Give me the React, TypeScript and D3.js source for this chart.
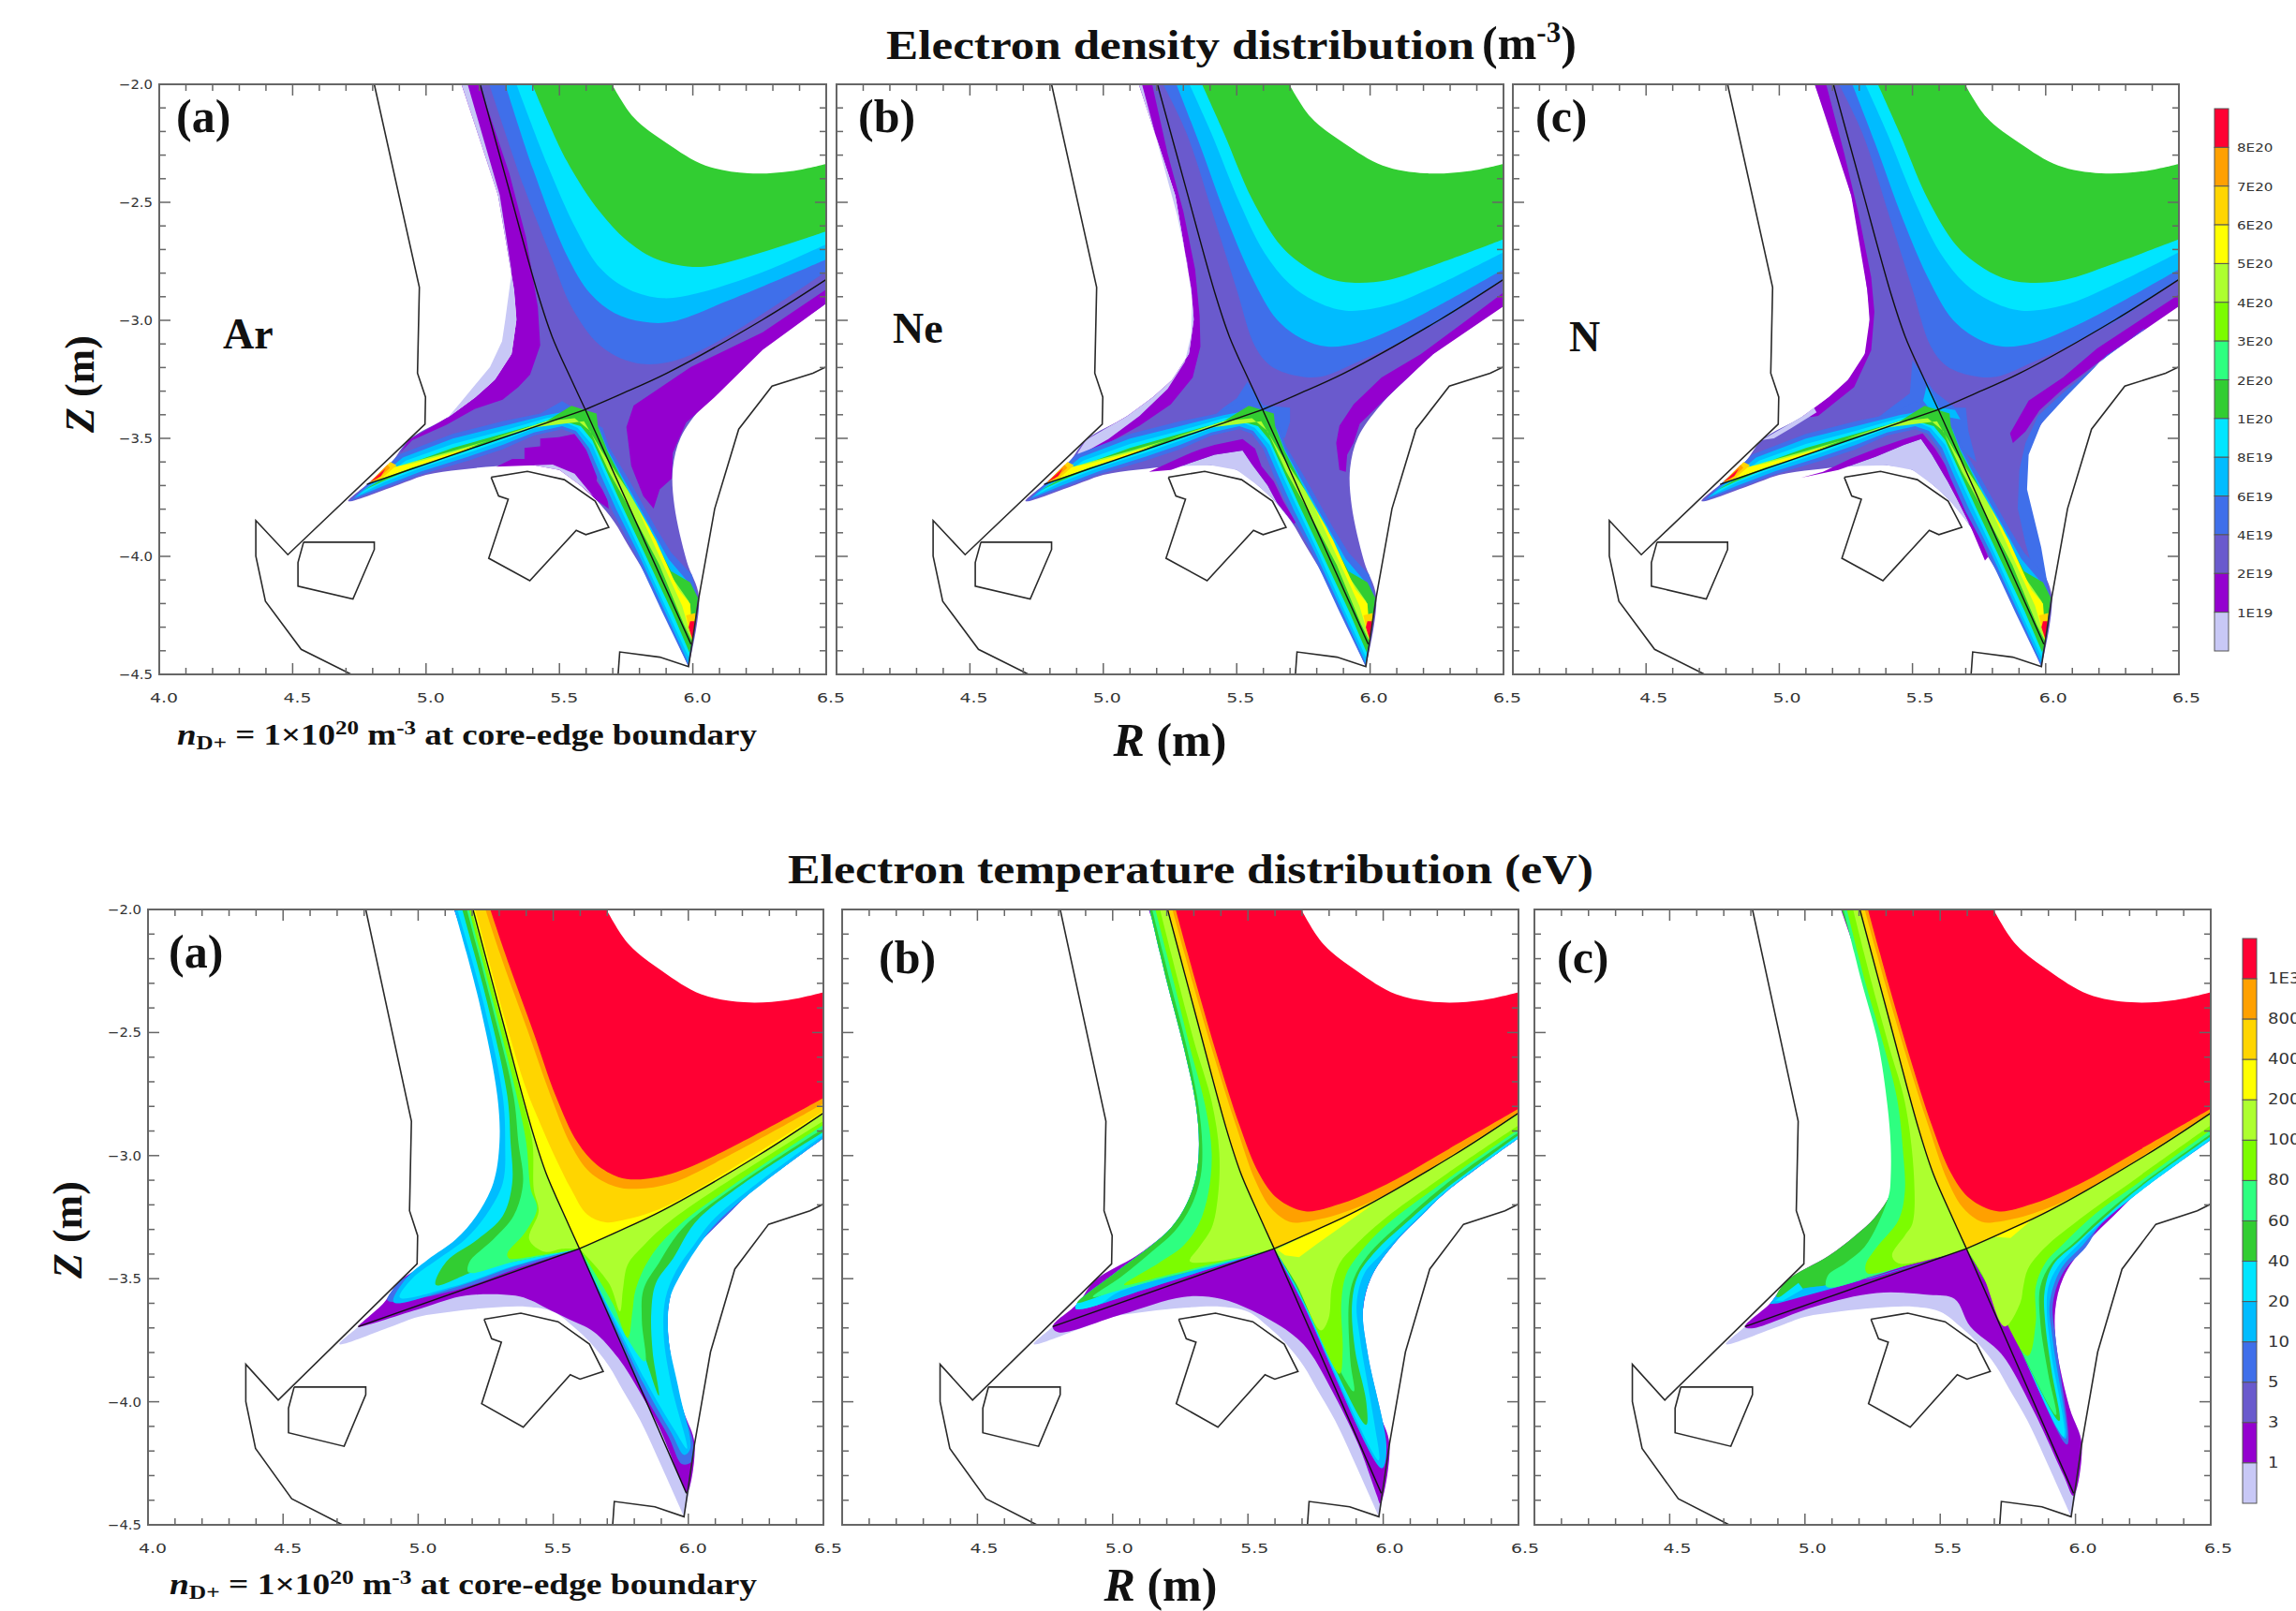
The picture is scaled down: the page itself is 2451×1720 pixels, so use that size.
import React from "react";
import * as d3 from "d3";

type P = [number, number];

// ---------- colour scale (cold to hot) ----------
const LAV = "#c8c8f6", PUR = "#9400cf", SLA = "#6a5acd", BLU = "#3f6fea", SKY = "#00bcff", CYA = "#00e5ff",
  GRN = "#32cd32", SPR = "#2eff80", LIM = "#7cfc00", YGR = "#adff2f", YEL = "#ffff00", GLD = "#ffd500", ORA = "#ffa000", RED = "#ff0033";
const barColors = [RED, ORA, GLD, YEL, YGR, LIM, SPR, GRN, CYA, SKY, BLU, SLA, PUR, LAV];
const densityLabels = ["8E20", "7E20", "6E20", "5E20", "4E20", "3E20", "2E20", "1E20", "8E19", "6E19", "4E19", "2E19", "1E19"];
const temperatureLabels = ["1E3", "800", "400", "200", "100", "80", "60", "40", "20", "10", "5", "3", "1"];

// ---------- machine geometry (R, Z in metres) ----------
const WALL_OUTER: P[] = [[4.806, -2], [4.975, -2.86], [4.968, -3.224], [4.998, -3.325], [4.996, -3.44], [4.482, -3.993], [4.362, -3.848], [4.362, -3.999], [4.398, -4.19], [4.532, -4.394], [4.72, -4.5]];
const WALL_BOX: P[] = [[4.541, -3.94], [4.806, -3.94], [4.806, -3.971], [4.726, -4.181], [4.52, -4.126], [4.52, -4.026], [4.541, -3.94]];
const WALL_DOME: P[] = [[5.244, -3.665], [5.38, -3.64], [5.518, -3.675], [5.634, -3.766], [5.685, -3.877], [5.599, -3.908], [5.563, -3.89], [5.389, -4.103], [5.235, -4.008], [5.308, -3.758], [5.272, -3.744], [5.244, -3.665]];
const WALL_RIGHT: P[] = [[5.72, -4.5], [5.726, -4.405], [5.876, -4.427], [5.984, -4.467], [6.023, -4.172], [6.082, -3.798], [6.172, -3.461], [6.297, -3.279], [6.45, -3.224], [6.5, -3.197]];
const X_POINT: P = [5.597, -3.378];
const SEP_UP: P[] = [[5.203, -2], [5.312, -2.45], [5.419, -2.887], [5.473, -3.07], [5.545, -3.252], X_POINT];
const SEP_OUT: P[] = [X_POINT, [5.724, -3.316], [5.903, -3.224], [6.262, -2.997], [6.5, -2.827]];
const SEP_LEGS: P[] = [[4.778, -3.695], X_POINT, [5.993, -4.372]];

// ---------- plasma domain boundary ----------
const DOM_LEFT: P[] = [[5.133, -2], [5.27, -2.47], [5.33, -2.87], [5.339, -2.997], [5.321, -3.142], [5.258, -3.252], [5.186, -3.325], [5.088, -3.407], [4.935, -3.507]];
const DOM_TIP: P[] = [[4.873, -3.598], [4.778, -3.695], [4.708, -3.766]];
const DOM_BOTTOM: P[] = [[4.897, -3.696], [5, -3.655], [5.128, -3.633], [5.264, -3.618], [5.404, -3.614], [5.5, -3.634], [5.58, -3.7], [5.639, -3.762], [5.706, -3.855], [5.756, -3.95], [5.822, -4.076], [5.9, -4.26], [5.984, -4.467]];
const DOM_RIGHT: P[] = [[6.023, -4.172], [5.978, -4.024], [5.931, -3.786], [5.925, -3.627], [5.955, -3.495], [6.037, -3.362], [6.154, -3.23], [6.231, -3.149], [6.5, -2.929]];
const CORNER: P[] = [[6.5, -2]];
const CORE: P[] = [[5.697, -2], [5.778, -2.14], [5.903, -2.25], [6.047, -2.344], [6.208, -2.377], [6.369, -2.368], [6.5, -2.337], CORNER[0]];

// ---------- electron density: contours of each panel ----------
const nGreenA: P[] = [[5.398, -2], [5.527, -2.323], [5.652, -2.541], [5.76, -2.669], [5.867, -2.742], [6.029, -2.774], [6.226, -2.723], [6.5, -2.623]];
const nCyanA: P[] = [[5.339, -2], [5.455, -2.341], [5.563, -2.614], [5.652, -2.778], [5.76, -2.869], [5.885, -2.906], [6.011, -2.887], [6.262, -2.796], [6.5, -2.678]];
const nSkyA: P[] = [[5.297, -2], [5.401, -2.359], [5.527, -2.723], [5.616, -2.887], [5.706, -2.969], [5.814, -3.006], [5.921, -3.006], [6.136, -2.915], [6.5, -2.742]];
const nBlueA: P[] = [[5.237, -2], [5.366, -2.432], [5.473, -2.742], [5.545, -2.942], [5.652, -3.106], [5.778, -3.179], [5.903, -3.179], [6.082, -3.097], [6.5, -2.793]];
const nGreenB: P[] = [[5.37, -2], [5.452, -2.207], [5.557, -2.485], [5.663, -2.681], [5.745, -2.763], [5.838, -2.82], [5.932, -2.84], [6.072, -2.828], [6.248, -2.763], [6.5, -2.657]];
const nCyanB: P[] = [[5.323, -2], [5.405, -2.207], [5.511, -2.502], [5.604, -2.714], [5.698, -2.845], [5.792, -2.918], [5.909, -2.959], [6.072, -2.935], [6.248, -2.853], [6.5, -2.711]];
const nSkyB: P[] = [[5.274, -2], [5.358, -2.245], [5.464, -2.572], [5.557, -2.817], [5.651, -2.997], [5.745, -3.078], [5.838, -3.111], [5.955, -3.095], [6.131, -3.013], [6.5, -2.784]];
const nBlueB: P[] = [[5.224, -2], [5.312, -2.207], [5.417, -2.572], [5.499, -2.866], [5.569, -3.111], [5.628, -3.193], [5.721, -3.234], [5.815, -3.239], [5.955, -3.176], [6.248, -3.013], [6.5, -2.825]];

const nSlateEdgeA: P[] = [[5.2, -2], [5.312, -2.377], [5.375, -2.65], [5.419, -2.942], [5.428, -3.106], [5.39, -3.23], [5.346, -3.283], [5.287, -3.336], [5.182, -3.376], [5.077, -3.442], [4.948, -3.508]];
const nSlateEdgeB: P[] = [[5.183, -2], [5.241, -2.294], [5.3, -2.539], [5.344, -2.784], [5.361, -2.98], [5.364, -3.111], [5.335, -3.242], [5.253, -3.356], [5.136, -3.446], [5.019, -3.52], [4.902, -3.593]];
const nSlateEdgeC: P[] = [[5.176, -2], [5.244, -2.294], [5.299, -2.556], [5.345, -2.817], [5.357, -2.964], [5.345, -3.127], [5.281, -3.283], [5.146, -3.405], [5.12, -3.41]];
const nLavEdgeA: P[] = [[5.156, -2], [5.276, -2.468], [5.321, -2.796], [5.297, -2.997], [5.285, -3.088], [5.24, -3.197], [5.133, -3.343], [5.079, -3.416]];
const nLavEdgeB: P[] = [[5.145, -2], [5.218, -2.31], [5.277, -2.556], [5.314, -2.752], [5.333, -2.915], [5.329, -3.062], [5.306, -3.176], [5.241, -3.291], [5.136, -3.405], [5.019, -3.503], [4.902, -3.577]];
const nLavEdgeC: P[] = [[5.14, -3.39], [5.047, -3.455], [4.98, -3.5], [4.935, -3.507], [5.088, -3.407], [5.13, -3.37]];

const nPfPurA: P[] = [[5.264, -3.62], [5.323, -3.587], [5.369, -3.587], [5.369, -3.541], [5.428, -3.534], [5.428, -3.501], [5.498, -3.495], [5.557, -3.481], [5.58, -3.514], [5.603, -3.554], [5.615, -3.581], [5.627, -3.614], [5.644, -3.647], [5.639, -3.68], [5.662, -3.719], [5.68, -3.759], [5.685, -3.799], [5.639, -3.762], [5.58, -3.7], [5.5, -3.634], [5.404, -3.614]];
const nPfLavA: P[] = [[5.404, -3.614], [5.475, -3.611], [5.557, -3.65], [5.627, -3.746], [5.58, -3.7], [5.5, -3.634]];
const nPfPurB: P[] = [[5.171, -3.642], [5.265, -3.593], [5.312, -3.569], [5.37, -3.544], [5.417, -3.528], [5.522, -3.503], [5.569, -3.544], [5.593, -3.618], [5.639, -3.683], [5.674, -3.765], [5.721, -3.855], [5.715, -3.863], [5.651, -3.773], [5.616, -3.699], [5.557, -3.61], [5.522, -3.552], [5.417, -3.569], [5.312, -3.61], [5.253, -3.634]];
const nPfLavB: P[] = [[5.253, -3.634], [5.312, -3.61], [5.417, -3.569], [5.522, -3.552], [5.557, -3.61], [5.616, -3.699], [5.651, -3.773], [5.706, -3.855], [5.639, -3.762], [5.58, -3.7], [5.5, -3.634], [5.404, -3.614], [5.264, -3.618]];
const nPfPurC: P[] = [[5.082, -3.667], [5.164, -3.642], [5.269, -3.585], [5.363, -3.544], [5.468, -3.503], [5.538, -3.479], [5.585, -3.544], [5.644, -3.65], [5.69, -3.781], [5.737, -3.879], [5.784, -4.002], [5.772, -4.018], [5.714, -3.863], [5.667, -3.757], [5.632, -3.683], [5.573, -3.569], [5.532, -3.503], [5.468, -3.528], [5.363, -3.577], [5.222, -3.634]];
const nPfLavC: P[] = [[5.222, -3.634], [5.363, -3.577], [5.468, -3.528], [5.532, -3.503], [5.573, -3.569], [5.632, -3.683], [5.667, -3.757], [5.714, -3.863], [5.706, -3.855], [5.639, -3.762], [5.58, -3.7], [5.5, -3.634], [5.404, -3.614], [5.264, -3.618]];

const nRightPurA: P[] = [[6.5, -2.869], [6.262, -3.051], [5.993, -3.197], [5.778, -3.361], [5.751, -3.452], [5.769, -3.616], [5.814, -3.744], [5.853, -3.798], [5.876, -3.716], [5.921, -3.671], [5.925, -3.562], [5.975, -3.434], [6.082, -3.325], [6.262, -3.125], [6.5, -2.929]];
const nRightPurB: P[] = [[6.5, -2.882], [6.365, -2.997], [6.189, -3.144], [6.043, -3.242], [5.938, -3.356], [5.885, -3.446], [5.873, -3.52], [5.885, -3.634], [5.909, -3.642], [5.914, -3.569], [5.938, -3.52], [5.961, -3.438], [6.096, -3.291], [6.236, -3.144], [6.5, -2.94]];
const nRightPurC: P[] = [[6.5, -2.891], [6.357, -2.997], [6.193, -3.119], [6.065, -3.242], [5.936, -3.34], [5.866, -3.479], [5.877, -3.52], [5.924, -3.471], [5.977, -3.381], [6.065, -3.291], [6.228, -3.152], [6.5, -2.94]];
const nBlobB: P[] = [[5.54, -3.26], [5.6, -3.36], [5.7, -3.37], [5.7, -3.43], [5.68, -3.5], [5.6, -3.45], [5.4, -3.42], [5.45, -3.37], [5.5, -3.33]];
const nBlobC: P[] = [[5.5, -3.17], [5.58, -3.3], [5.66, -3.37], [5.7, -3.37], [5.71, -3.47], [5.74, -3.6], [5.6, -3.47], [5.35, -3.43], [5.43, -3.36], [5.49, -3.31]];
const nSkyPatchC: P[] = [[5.555, -3.27], [5.6, -3.37], [5.66, -3.38], [5.68, -3.42], [5.58, -3.4], [5.54, -3.34]];
const nArmBlueC: P[] = [[6.37, -3.035], [6.228, -3.155], [6.065, -3.307], [5.971, -3.405], [5.924, -3.52], [5.901, -3.634], [5.895, -3.797], [5.924, -3.944], [5.953, -4.059], [6.018, -4.19], [5.983, -3.961], [5.93, -3.716], [5.936, -3.569], [5.983, -3.438], [6.076, -3.324], [6.228, -3.149], [6.37, -3.04]];

// ---------- electron density: divertor-leg ridges ----------
const legBlue: P[] = [[4.714, -3.766], [4.901, -3.567], [5.1, -3.481], [5.287, -3.428], [5.428, -3.395], [5.51, -3.342], [5.539, -3.362], [5.568, -3.395], [5.662, -3.455], [5.685, -3.534], [5.756, -3.667], [5.861, -3.878], [5.919, -3.984], [5.996, -4.077], [6.019, -4.182], [5.996, -4.368], [5.984, -4.467], [5.885, -4.235], [5.782, -3.984], [5.7, -3.812], [5.642, -3.667], [5.6, -3.547], [5.557, -3.481], [5.51, -3.461], [5.404, -3.488], [5.287, -3.547], [5.159, -3.594], [4.983, -3.653]];
const legSky: P[] = [[4.731, -3.752], [4.913, -3.581], [5.1, -3.501], [5.287, -3.448], [5.451, -3.402], [5.545, -3.382], [5.65, -3.461], [5.68, -3.547], [5.744, -3.68], [5.849, -3.891], [5.908, -4.01], [5.978, -4.103], [6.001, -4.182], [5.99, -4.381], [5.984, -4.454], [5.896, -4.235], [5.794, -3.984], [5.712, -3.799], [5.654, -3.653], [5.611, -3.541], [5.562, -3.468], [5.51, -3.448], [5.404, -3.475], [5.287, -3.528], [5.159, -3.577], [4.983, -3.64], [4.843, -3.7]];
const legCyan: P[] = [[4.749, -3.739], [4.925, -3.594], [5.1, -3.524], [5.287, -3.468], [5.451, -3.415], [5.557, -3.395], [5.639, -3.468], [5.662, -3.547], [5.732, -3.693], [5.837, -3.905], [5.896, -4.037], [5.966, -4.143], [6.001, -4.196], [5.996, -4.368], [5.984, -4.427], [5.906, -4.235], [5.806, -3.984], [5.724, -3.786], [5.665, -3.64], [5.623, -3.528], [5.568, -3.455], [5.51, -3.428], [5.404, -3.458], [5.287, -3.51], [5.159, -3.561], [4.983, -3.624], [4.843, -3.686]];
const legGreen: P[] = [[4.767, -3.719], [4.936, -3.607], [5.1, -3.541], [5.287, -3.481], [5.451, -3.428], [5.545, -3.362], [5.639, -3.395], [5.644, -3.448], [5.68, -3.554], [5.744, -3.693], [5.837, -3.891], [5.919, -4.063], [5.99, -4.11], [6.019, -4.176], [5.996, -4.368], [5.987, -4.407], [5.922, -4.235], [5.818, -3.984], [5.735, -3.786], [5.671, -3.627], [5.623, -3.508], [5.58, -3.448], [5.51, -3.426], [5.404, -3.442], [5.287, -3.497], [5.159, -3.547], [4.983, -3.611], [4.831, -3.686]];
const legLime: P[] = [[4.79, -3.686], [4.831, -3.64], [4.948, -3.6], [5.1, -3.554], [5.276, -3.495], [5.393, -3.455], [5.592, -3.428], [5.662, -3.561], [5.756, -3.719], [5.837, -3.878], [5.915, -4.077], [5.985, -4.19], [6.001, -4.368], [5.966, -4.288], [5.875, -4.037], [5.77, -3.812], [5.685, -3.64], [5.615, -3.468], [5.557, -3.415], [5.451, -3.428], [5.287, -3.488], [5.1, -3.563], [4.948, -3.62], [4.808, -3.68]];
const legYellowL: P[] = [[4.79, -3.686], [4.854, -3.627], [4.948, -3.607], [5.1, -3.561], [5.194, -3.528], [5.1, -3.571], [4.948, -3.624], [4.831, -3.673]];
const legYellowR: P[] = [[5.79, -3.79], [5.861, -3.931], [5.945, -4.14], [5.99, -4.2], [6.001, -4.368], [5.96, -4.209], [5.885, -4.024]];
const tipGoldL: P[] = [[4.79, -3.686], [4.866, -3.6], [4.89, -3.614], [4.831, -3.673]];
const tipOrangeL: P[] = [[4.79, -3.686], [4.855, -3.612], [4.865, -3.625], [4.815, -3.677]];
const tipRedL: P[] = [[4.79, -3.686], [4.849, -3.627], [4.831, -3.66]];
const tipGoldR: P[] = [[5.975, -4.25], [6.01, -4.24], [6.002, -4.34], [5.985, -4.3]];
const tipRedR: P[] = [[5.984, -4.301], [5.99, -4.275], [6.007, -4.275], [5.999, -4.354]];

// ---------- electron temperature: panel (a) ----------
const tHotRedA: P[] = [[5.267, -2], [5.336, -2.224], [5.428, -2.503], [5.509, -2.757], [5.59, -2.947], [5.66, -3.036], [5.741, -3.087], [5.81, -3.097], [5.937, -3.074], [6.099, -3], [6.5, -2.766]];
const tHotOrangeA: P[] = [[5.249, -2], [5.313, -2.212], [5.405, -2.491], [5.486, -2.744], [5.567, -2.96], [5.636, -3.068], [5.729, -3.125], [5.81, -3.135], [5.937, -3.112], [6.099, -3.03], [6.5, -2.789]];
const tHotGoldA: P[] = [[5.211, -2], [5.322, -2.45], [5.4, -2.73], [5.452, -2.87], [5.509, -3.011], [5.567, -3.138], [5.625, -3.239], [5.694, -3.271], [5.775, -3.258], [5.856, -3.233], [5.983, -3.169], [6.5, -2.82]];
const tYgrA: P[] = [[5.197, -2], [5.29, -2.377], [5.382, -2.757], [5.423, -2.947], [5.428, -3.138], [5.446, -3.226], [5.411, -3.34], [5.469, -3.391], [5.532, -3.378], X_POINT, [5.707, -3.52], [5.747, -3.633], [5.758, -3.544], [5.776, -3.442], [5.834, -3.366], [5.949, -3.252], [6.5, -2.86]];
const tLimA: P[] = [[5.188, -2], [5.278, -2.377], [5.365, -2.757], [5.4, -2.947], [5.417, -3.138], [5.44, -3.214], [5.394, -3.315], [5.33, -3.398], [5.336, -3.417], [5.452, -3.404], X_POINT, [5.72, -3.6], [5.776, -3.74], [5.793, -3.633], [5.805, -3.544], [5.857, -3.417], [5.972, -3.277], [6.5, -2.875]];
const tSprA: P[] = [[5.18, -2], [5.27, -2.377], [5.353, -2.757], [5.371, -2.947], [5.388, -3.112], [5.353, -3.245], [5.278, -3.34], [5.191, -3.43], [5.186, -3.474], [5.36, -3.43], X_POINT, [5.73, -3.66], [5.839, -3.836], [5.828, -3.671], [5.834, -3.544], [5.891, -3.436], [5.995, -3.277], [6.5, -2.89]];
const tGrnA: P[] = [[5.163, -2], [5.255, -2.377], [5.33, -2.757], [5.342, -2.947], [5.348, -3.112], [5.313, -3.245], [5.22, -3.34], [5.105, -3.43], [5.065, -3.525], [5.232, -3.461], X_POINT, [5.707, -3.506], [5.811, -3.734], [5.891, -3.975], [5.868, -3.798], [5.863, -3.633], [5.88, -3.518], [5.944, -3.417], [6.042, -3.252], [6.5, -2.905]];
const tCyaA: P[] = [[5.145, -2], [5.241, -2.377], [5.313, -2.757], [5.322, -2.947], [5.313, -3.112], [5.249, -3.245], [5.174, -3.34], [5.07, -3.423], [4.978, -3.499], [4.932, -3.576], [5.128, -3.533], [5.36, -3.445], X_POINT, [5.84, -3.91], [5.949, -4.115], [5.995, -4.191], [5.938, -3.937], [5.909, -3.734], [5.915, -3.582], [5.955, -3.468], [6.019, -3.366], [6.1, -3.252], [6.5, -2.916]];
const tSkyA: P[] = [[5.134, -2], [5.226, -2.377], [5.293, -2.757], [5.301, -2.947], [5.278, -3.112], [5.215, -3.245], [5.139, -3.34], [5.035, -3.423], [4.955, -3.499], [4.909, -3.595], [5.128, -3.538], [5.36, -3.449], [5.521, -3.398], X_POINT, [5.834, -3.925], [5.938, -4.128], [5.984, -4.216], [6.007, -4.191], [5.967, -3.963], [5.926, -3.734], [5.932, -3.582], [5.967, -3.493], [6.03, -3.379], [6.123, -3.252], [6.5, -2.928]];
const tBluTailA: P[] = [[4.935, -3.507], [4.886, -3.588], [5.128, -3.55], [5.36, -3.461], [5.521, -3.404], X_POINT, [5.822, -3.937], [5.926, -4.14], [5.978, -4.254], [6.013, -4.242], [6.018, -4.166]];
const tPurEdgeA: P[] = [[4.782, -3.696], [5.013, -3.62], [5.175, -3.569], [5.36, -3.569], [5.417, -3.588], [5.475, -3.62], [5.556, -3.664], [5.649, -3.715], [5.741, -3.823], [5.822, -3.963], [5.891, -4.102], [5.972, -4.318], [5.995, -4.369]];

// ---------- electron temperature: panels (b) and (c) share the hot core ----------
const tHotRedB: P[] = [[5.233, -2], [5.308, -2.3], [5.389, -2.605], [5.469, -2.877], [5.539, -3.069], [5.608, -3.173], [5.712, -3.226], [5.839, -3.197], [6.012, -3.117], [6.243, -2.973], [6.5, -2.81]];
const tHotOrangeB: P[] = [[5.221, -2], [5.296, -2.3], [5.377, -2.605], [5.458, -2.885], [5.527, -3.101], [5.585, -3.213], [5.654, -3.269], [5.712, -3.269], [5.839, -3.237], [6.012, -3.157], [6.243, -3.005], [6.5, -2.826]];
const tYelPatchB: P[] = [[5.608, -3.381], [5.816, -3.269], [5.96, -3.2], [5.758, -3.357], [5.689, -3.413], [5.637, -3.405]];
const tYelPatchC: P[] = [[5.7, -3.33], [5.85, -3.25], [5.76, -3.335]];

const tYgrB: P[] = [[5.175, -2], [5.244, -2.3], [5.302, -2.541], [5.366, -2.781], [5.394, -2.989], [5.389, -3.165], [5.366, -3.293], [5.319, -3.373], [5.285, -3.429], [5.377, -3.43], [5.493, -3.405], X_POINT, [5.677, -3.517], [5.77, -3.71], [5.798, -3.662], [5.81, -3.533], [5.839, -3.437], [5.896, -3.365], [6, -3.261], [6.231, -3.077], [6.5, -2.877]];
const tLimB: P[] = [[5.158, -2], [5.227, -2.3], [5.285, -2.557], [5.342, -2.797], [5.366, -2.989], [5.354, -3.149], [5.319, -3.277], [5.262, -3.365], [5.169, -3.437], [5.042, -3.525], [5.204, -3.485], [5.377, -3.437], [5.516, -3.402], X_POINT, [5.643, -3.437], [5.839, -3.886], [5.85, -3.79], [5.845, -3.598], [5.862, -3.485], [5.902, -3.413], [6, -3.293], [6.231, -3.101], [6.5, -2.893]];
const tSprB: P[] = [[5.146, -2], [5.21, -2.284], [5.273, -2.557], [5.317, -2.797], [5.331, -2.957], [5.325, -3.085], [5.29, -3.205], [5.227, -3.31], [5.146, -3.389], [5.031, -3.493], [4.927, -3.574], [5.042, -3.541], [5.204, -3.493], [5.377, -3.445], [5.516, -3.405], X_POINT, [5.66, -3.485], [5.891, -3.958], [5.879, -3.838], [5.873, -3.598], [5.891, -3.501], [5.943, -3.405], [6.07, -3.269], [6.231, -3.117], [6.5, -2.906]];
const tGrnB: P[] = [[5.137, -2], [5.198, -2.284], [5.262, -2.557], [5.308, -2.797], [5.319, -2.957], [5.308, -3.085], [5.273, -3.197], [5.216, -3.293], [5.135, -3.373], [5.008, -3.477], [4.869, -3.598], [4.927, -3.581], [5.042, -3.533], [5.262, -3.477], [5.377, -3.437], [5.493, -3.405], X_POINT, [5.671, -3.517], [5.937, -4.094], [5.937, -3.998], [5.896, -3.79], [5.885, -3.598], [5.908, -3.485], [5.972, -3.389], [6.081, -3.277], [6.231, -3.136], [6.5, -2.917]];
const tCyaTailB: P[] = [[4.869, -3.598], [4.863, -3.622], [4.95, -3.605], [5.02, -3.555]];
const tCyaB: P[] = [X_POINT, [5.683, -3.55], [5.983, -4.238], [5.966, -4.078], [5.914, -3.742], [5.902, -3.598], [5.931, -3.477], [5.989, -3.405], [6.104, -3.277], [6.231, -3.146], [6.5, -2.928]];
const tSkyB: P[] = [X_POINT, [5.695, -3.582], [5.995, -4.27], [6.012, -4.19], [5.943, -3.806], [5.925, -3.627], [5.955, -3.495], [6.037, -3.362], [6.154, -3.23], [6.231, -3.149], [6.5, -2.929]];
const tBluTailB: P[] = [[5.137, -2], [5.198, -2.284], [5.262, -2.557], [5.308, -2.797], [5.319, -2.957], [5.308, -3.085], [5.273, -3.197], [5.216, -3.293], [5.135, -3.373], [5.008, -3.477], [4.869, -3.598], [4.863, -3.622], [5.146, -3.534], [5.4, -3.445], [5.521, -3.405], X_POINT];
const tPurEdgeB: P[] = [[4.8, -3.718], [5.031, -3.646], [5.262, -3.574], [5.4, -3.582], [5.516, -3.63], [5.654, -3.718], [5.723, -3.79], [5.816, -3.966], [5.908, -4.174], [5.977, -4.382], [5.989, -4.414]];

const tYgrC: P[] = [[5.178, -2], [5.247, -2.3], [5.311, -2.557], [5.369, -2.781], [5.403, -3.085], [5.397, -3.277], [5.369, -3.325], [5.322, -3.405], [5.345, -3.437], [5.519, -3.405], X_POINT, [5.657, -3.485], [5.738, -3.694], [5.796, -3.598], [5.807, -3.533], [5.824, -3.461], [5.888, -3.373], [6.003, -3.269], [6.234, -3.085], [6.5, -2.877]];
const tLimC: P[] = [[5.155, -2], [5.224, -2.3], [5.288, -2.541], [5.34, -2.765], [5.363, -2.989], [5.369, -3.149], [5.346, -3.261], [5.265, -3.373], [5.224, -3.445], [5.23, -3.477], [5.38, -3.445], [5.519, -3.405], X_POINT, [5.68, -3.533], [5.824, -3.814], [5.853, -3.678], [5.853, -3.533], [5.888, -3.437], [5.957, -3.357], [6.073, -3.237], [6.234, -3.109], [6.5, -2.896]];
const tSprC: P[] = [[5.143, -2], [5.207, -2.284], [5.27, -2.541], [5.305, -2.797], [5.317, -2.957], [5.317, -3.085], [5.311, -3.157], [5.27, -3.277], [5.219, -3.373], [5.149, -3.437], [5.086, -3.485], [5.08, -3.533], [5.265, -3.485], [5.38, -3.445], [5.519, -3.405], X_POINT, [5.697, -3.566], [5.928, -4.054], [5.899, -3.886], [5.87, -3.678], [5.87, -3.533], [5.911, -3.437], [5.992, -3.357], [6.084, -3.261], [6.234, -3.125], [6.5, -2.912]];
const tGrnC: P[] = [[5.135, -2], [5.27, -2.47], [5.33, -2.87], [5.339, -2.997], [5.321, -3.142], [5.258, -3.252], [5.186, -3.325], [5.088, -3.407], [4.935, -3.507], [4.895, -3.574], [4.988, -3.541], [5.08, -3.526], [5.265, -3.48], [5.38, -3.44], [5.519, -3.4], X_POINT, [5.703, -3.582], [5.94, -4.078], [5.911, -3.87], [5.888, -3.678], [5.886, -3.55], [5.917, -3.445], [6.003, -3.357], [6.09, -3.269], [6.234, -3.133], [6.5, -2.922]];
const tCyaTailC: P[] = [[4.89, -3.59], [4.976, -3.517], [4.993, -3.542], [4.918, -3.59]];
const tSkyTailC: P[] = [[4.87, -3.603], [4.935, -3.507], [5.1, -3.46], [5.05, -3.53], [5.24, -3.5], [5.519, -3.41], X_POINT, [5.519, -3.41], [5.1, -3.54], [4.9, -3.6]];
const tCyaC: P[] = [X_POINT, [5.715, -3.598], [5.957, -4.142], [5.911, -3.806], [5.894, -3.63], [5.9, -3.533], [5.934, -3.453], [6.015, -3.357], [6.09, -3.277], [6.234, -3.149], [6.5, -2.933]];
const tSkyC: P[] = [X_POINT, [5.726, -3.614], [5.963, -4.15], [5.917, -3.758], [5.905, -3.598], [5.946, -3.461], [6.026, -3.365], [6.096, -3.277], [6.234, -3.15], [6.5, -2.936]];
const tBluC: P[] = [X_POINT, [5.732, -3.63], [5.969, -4.174], [5.928, -3.758], [5.917, -3.598], [5.957, -3.47], [6.038, -3.373], [6.102, -3.269], [6.5, -2.937]];
const tPurEdgeC: P[] = [[4.803, -3.702], [5.034, -3.614], [5.265, -3.558], [5.461, -3.566], [5.553, -3.582], [5.611, -3.694], [5.726, -3.806], [5.842, -4.03], [5.957, -4.302], [5.992, -4.382]];

// ---------- tick values ----------
const xMajor = [4, 4.5, 5, 5.5, 6, 6.5];
const yMajor = [-2, -2.5, -3, -3.5, -4, -4.5];
const xMinor = d3.range(4, 6.51, 0.1);
const yMinor = d3.range(-2, -4.51, -0.1);

// ---------- layers ----------
type Layer = [string, P[]];
const domainAll: P[] = [...DOM_LEFT, ...DOM_TIP, ...DOM_BOTTOM, ...DOM_RIGHT, ...CORNER];
const legLayers: Layer[] = [
  [BLU, legBlue], [SKY, legSky], [CYA, legCyan], [GRN, legGreen], [YGR, legLime],
  [YEL, legYellowL], [YEL, legYellowR], [GLD, tipGoldL], [GLD, tipGoldR], [ORA, tipOrangeL], [RED, tipRedL], [RED, tipRedR],
];
function coreLayers(green: P[], cyan: P[], sky: P[], blue: P[]): Layer[] {
  return [[BLU, [...blue, ...CORNER]], [SKY, [...sky, ...CORNER]], [CYA, [...cyan, ...CORNER]], [GRN, [...green, ...CORNER]]];
}
const leftBand = (edge: P[]): P[] => [...DOM_LEFT, [4.905, -3.56], ...[...edge].reverse()];

const densityA: Layer[] = [
  [SLA, domainAll], [PUR, leftBand(nSlateEdgeA)], [LAV, [...DOM_LEFT.slice(0, 8), ...[...nLavEdgeA].reverse()]],
  [PUR, nPfPurA], [LAV, nPfLavA], [PUR, nRightPurA],
  ...coreLayers(nGreenA, nCyanA, nSkyA, nBlueA), ...legLayers,
];
const densityB: Layer[] = [
  [SLA, domainAll], [PUR, leftBand(nSlateEdgeB)], [LAV, leftBand(nLavEdgeB)],
  [LAV, nPfLavB], [PUR, nPfPurB], [PUR, nRightPurB],
  [BLU, nBlobB], ...coreLayers(nGreenB, nCyanB, nSkyB, nBlueB), ...legLayers,
];
const densityC: Layer[] = [
  [SLA, domainAll], [PUR, [...DOM_LEFT.slice(0, 8), ...[...nSlateEdgeC].reverse()]], [LAV, nLavEdgeC],
  [LAV, nPfLavC], [PUR, nPfPurC], [PUR, nRightPurC], [BLU, nArmBlueC],
  [BLU, nBlobC], ...coreLayers(nGreenB, nCyanB, nSkyB, nBlueB), [SKY, nSkyPatchC], ...legLayers,
];
const hotRegion: P[] = [...SEP_UP, ...SEP_OUT.slice(1), ...CORNER];
const temperatureA: Layer[] = [
  [LAV, domainAll], [PUR, [...DOM_LEFT, ...DOM_TIP.slice(0, 2), ...tPurEdgeA, ...DOM_RIGHT, ...CORNER]],
  [BLU, [...DOM_LEFT, ...tBluTailA, ...DOM_RIGHT.slice(1), ...CORNER]],
  [SKY, [...tSkyA, ...CORNER]], [CYA, [...tCyaA, ...CORNER]], [GRN, [...tGrnA, ...CORNER]], [SPR, [...tSprA, ...CORNER]],
  [LIM, [...tLimA, ...CORNER]], [YGR, [...tYgrA, ...CORNER]], [YEL, hotRegion],
  [GLD, [...tHotGoldA, ...CORNER]], [ORA, [...tHotOrangeA, ...CORNER]], [RED, [...tHotRedA, ...CORNER]],
];
const temperatureB: Layer[] = [
  [LAV, domainAll], [PUR, [...DOM_LEFT, ...DOM_TIP.slice(0, 2), ...tPurEdgeB, ...DOM_RIGHT, ...CORNER]],
  [BLU, [...tBluTailB, ...tSkyB.slice(1), ...CORNER]], [SKY, [...tBluTailB, ...tSkyB.slice(1), ...CORNER]], [CYA, [...tBluTailB.slice(0, 11), ...tCyaTailB, X_POINT, ...tCyaB.slice(1), ...CORNER]],
  [GRN, [...tGrnB, ...CORNER]], [SPR, [...tSprB, ...CORNER]], [LIM, [...tLimB, ...CORNER]], [YGR, [...tYgrB, ...CORNER]],
  [YEL, tYelPatchB], [GLD, hotRegion], [ORA, [...tHotOrangeB, ...CORNER]], [RED, [...tHotRedB, ...CORNER]],
];
const temperatureC: Layer[] = [
  [LAV, domainAll], [PUR, [...DOM_LEFT, ...DOM_TIP.slice(0, 2), ...tPurEdgeC, ...DOM_RIGHT, ...CORNER]],
  [SKY, tSkyTailC], [BLU, [[5.32, -2], X_POINT, ...tBluC.slice(1), ...CORNER]], [SKY, [[5.32, -2], X_POINT, ...tSkyC.slice(1), ...CORNER]], [CYA, [[5.32, -2], X_POINT, ...tCyaC.slice(1), ...CORNER]],
  [GRN, [...tGrnC, ...CORNER]], [CYA, tCyaTailC], [SPR, [...tSprC, ...CORNER]], [LIM, [...tLimC, ...CORNER]], [YGR, [...tYgrC, ...CORNER]],
  [YEL, tYelPatchC], [GLD, hotRegion], [ORA, [...tHotOrangeB, ...CORNER]], [RED, [...tHotRedB, ...CORNER]],
];

const SERIF = "'Liberation Serif', serif";
const SANS = "'DejaVu Sans', sans-serif";

function Panel({ id, x0, w, y0, h, layers, yLabels, firstX, dx, yLabelX }: any) {
  const x = d3.scaleLinear().domain([4, 6.5]).range([x0, x0 + w]);
  const y = d3.scaleLinear().domain([-2, -4.5]).range([y0, y0 + h]);
  const line = d3.line<P>().x((p) => x(p[0])).y((p) => y(p[1]));
  const smooth = d3.line<P>().x((p) => x(p[0])).y((p) => y(p[1])).curve(d3.curveCatmullRom.alpha(0.5));
  // smooth contour runs, keeping the X-point and the bottom strike-point sharp
  const smoothRuns = (pts: P[]) => {
    let out = "", run: P[] = [];
    pts.forEach((p, i) => {
      run.push(p);
      const sharp = p === X_POINT || (p[0] === 5.984 && p[1] === -4.467);
      if (sharp || i === pts.length - 1) {
        const d = smooth(run) || "";
        out += out ? "L" + d.slice(1) : d;
        run = [p];
      }
    });
    return out;
  };
  const shape = (pts: P[]) => {
    const last = pts[pts.length - 1];
    if (last === CORNER[0]) return smoothRuns(pts.slice(0, -1)) + `L${x(last[0])},${y(last[1])}Z`;
    return (line(pts) || "") + "Z";
  };
  const wall = "#2a2a2a";
  return (
    <g>
      <clipPath id={id}><rect x={x0} y={y0} width={w} height={h} /></clipPath>
      <g clipPath={`url(#${id})`}>
        {layers.map(([c, pts]: Layer, i: number) => <path key={i} d={shape(pts)} fill={c} />)}
        <path d={shape(CORE)} fill="#fff" />
        {[WALL_OUTER, WALL_BOX, WALL_DOME, WALL_RIGHT].map((pts, i) => <path key={i} d={line(pts) || ""} fill="none" stroke={wall} strokeWidth={1.6} />)}
        {[SEP_UP, SEP_OUT].map((pts, i) => <path key={i} d={smooth(pts) || ""} fill="none" stroke="#111" strokeWidth={1.4} />)}
        <path d={line(SEP_LEGS) || ""} fill="none" stroke="#111" strokeWidth={1.4} />
      </g>
      <g stroke="#666" strokeWidth={1.5}>
        {xMinor.map((v: number) => {
          const maj = xMajor.some((m) => Math.abs(m - v) < 1e-6);
          const l = maj ? 12 : 7;
          return <g key={v}><line x1={x(v)} x2={x(v)} y1={y0} y2={y0 + l} /><line x1={x(v)} x2={x(v)} y1={y0 + h} y2={y0 + h - l} /></g>;
        })}
        {yMinor.map((v: number) => {
          const maj = yMajor.some((m) => Math.abs(m - v) < 1e-6);
          const l = maj ? 12 : 7;
          return <g key={v}><line y1={y(v)} y2={y(v)} x1={x0} x2={x0 + l} /><line y1={y(v)} y2={y(v)} x1={x0 + w} x2={x0 + w - l} /></g>;
        })}
        <rect x={x0} y={y0} width={w} height={h} fill="none" strokeWidth={2} />
      </g>
      <g fontFamily={SANS} fontSize={14} fill="#333" textAnchor="middle">
        {xMajor.filter((v) => firstX || v > 4).map((v) => <text key={v} x={x(v) + dx} y={y0 + h + 30} textLength={30} lengthAdjust="spacingAndGlyphs">{v.toFixed(1)}</text>)}
      </g>
      {yLabels && <g fontFamily={SANS} fontSize={14} fill="#333" textAnchor="end">
        {yMajor.map((v) => <text key={v} x={yLabelX} y={y(v) + 5} textLength={36} lengthAdjust="spacingAndGlyphs">{"\u2212" + Math.abs(v).toFixed(1)}</text>)}
      </g>}
    </g>
  );
}

function ColorBar({ x0, x1, y0, y1, labels, labelX, charW, size }: any) {
  const s = d3.scaleLinear().domain([0, barColors.length]).range([y0, y1]);
  return (
    <g>
      {barColors.map((c, i) => <rect key={i} x={x0} y={s(i)} width={x1 - x0} height={s(i + 1) - s(i)} fill={c} stroke="#555" strokeWidth={1} />)}
      <g fontFamily={SANS} fontSize={size} fill="#333">
        {labels.map((l: string, i: number) => <text key={l} x={labelX} y={s(i + 1) + 5} textLength={l.length * charW} lengthAdjust="spacingAndGlyphs">{l}</text>)}
      </g>
    </g>
  );
}

function Annotation({ x, y, width }: any) {
  return (
    <text x={x} y={y} fontFamily={SERIF} fontWeight="bold" fontSize={31} fill="#111" textLength={width} lengthAdjust="spacingAndGlyphs">
      <tspan fontStyle="italic">n</tspan><tspan fontSize={21} dy={5}>D+</tspan><tspan dy={-5}> = 1×10</tspan><tspan fontSize={21} dy={-11}>20</tspan><tspan dy={11}> m</tspan><tspan fontSize={21} dy={-11}>-3</tspan><tspan dy={11}> at core-edge boundary</tspan>
    </text>
  );
}

function AxisName({ x, y, letter, rotate, size }: any) {
  return (
    <text transform={`translate(${x},${y})${rotate ? " rotate(-90)" : ""}`} textAnchor="middle" fontFamily={SERIF} fontWeight="bold" fontSize={size} fill="#111">
      <tspan fontStyle="italic">{letter}</tspan><tspan> (m)</tspan>
    </text>
  );
}

const panelLabels: [string, number, number][] = [
  ["(a)", 188, 141], ["(b)", 916, 141], ["(c)", 1639, 141],
  ["(a)", 180, 1033], ["(b)", 938, 1039], ["(c)", 1662, 1039],
];
const gasLabels: [string, number, number][] = [["Ar", 238, 372], ["Ne", 953, 366], ["N", 1675, 375]];

export default function App() {
  return (
    <svg width={2451} height={1720} style={{ position: "absolute", left: 0, top: 0, display: "block", background: "#fff" }}>
      <Panel id="ta" x0={170} w={712} y0={90} h={630} layers={densityA} yLabels firstX dx={5} yLabelX={163} />
      <Panel id="tb" x0={893} w={712} y0={90} h={630} layers={densityB} dx={4} />
      <Panel id="tc" x0={1615} w={711} y0={90} h={630} layers={densityC} dx={8} />
      <Panel id="ba" x0={158} w={721} y0={971} h={657} layers={temperatureA} yLabels firstX dx={5} yLabelX={151} />
      <Panel id="bb" x0={899} w={722} y0={971} h={657} layers={temperatureB} dx={7} />
      <Panel id="bc" x0={1638} w={722} y0={971} h={657} layers={temperatureC} dx={8} />

      <ColorBar x0={2364} x1={2379} y0={116} y1={695} labels={densityLabels} labelX={2388} charW={9.6} size={13} />
      <ColorBar x0={2394} x1={2409} y0={1002} y1={1605} labels={temperatureLabels} labelX={2421} charW={11.5} size={16} />

      <text x={946} y={63} fontFamily={SERIF} fontWeight="bold" fontSize={44} fill="#111" textLength={628} lengthAdjust="spacingAndGlyphs">Electron density distribution</text>
      <text x={1582} y={63} fontFamily={SERIF} fontWeight="bold" fontSize={50} fill="#111">(m<tspan fontSize={31} dy={-18}>-3</tspan><tspan dy={18}>)</tspan></text>
      <text x={841} y={943} fontFamily={SERIF} fontWeight="bold" fontSize={44} fill="#111" textLength={860} lengthAdjust="spacingAndGlyphs">Electron temperature distribution (eV)</text>

      {panelLabels.map(([t, x, y], i) => <text key={i} x={x} y={y} fontFamily={SERIF} fontWeight="bold" fontSize={50} fill="#111">{t}</text>)}
      {gasLabels.map(([t, x, y]) => <text key={t} x={x} y={y} fontFamily={SERIF} fontWeight="bold" fontSize={46} fill="#111">{t}</text>)}

      <AxisName x={100} y={410} letter="Z" rotate size={44} />
      <AxisName x={87} y={1313} letter="Z" rotate size={44} />
      <AxisName x={1249} y={807} letter="R" size={50} />
      <AxisName x={1239} y={1709} letter="R" size={50} />
      <Annotation x={189} y={795} width={619} />
      <Annotation x={181} y={1702} width={627} />
    </svg>
  );
}
